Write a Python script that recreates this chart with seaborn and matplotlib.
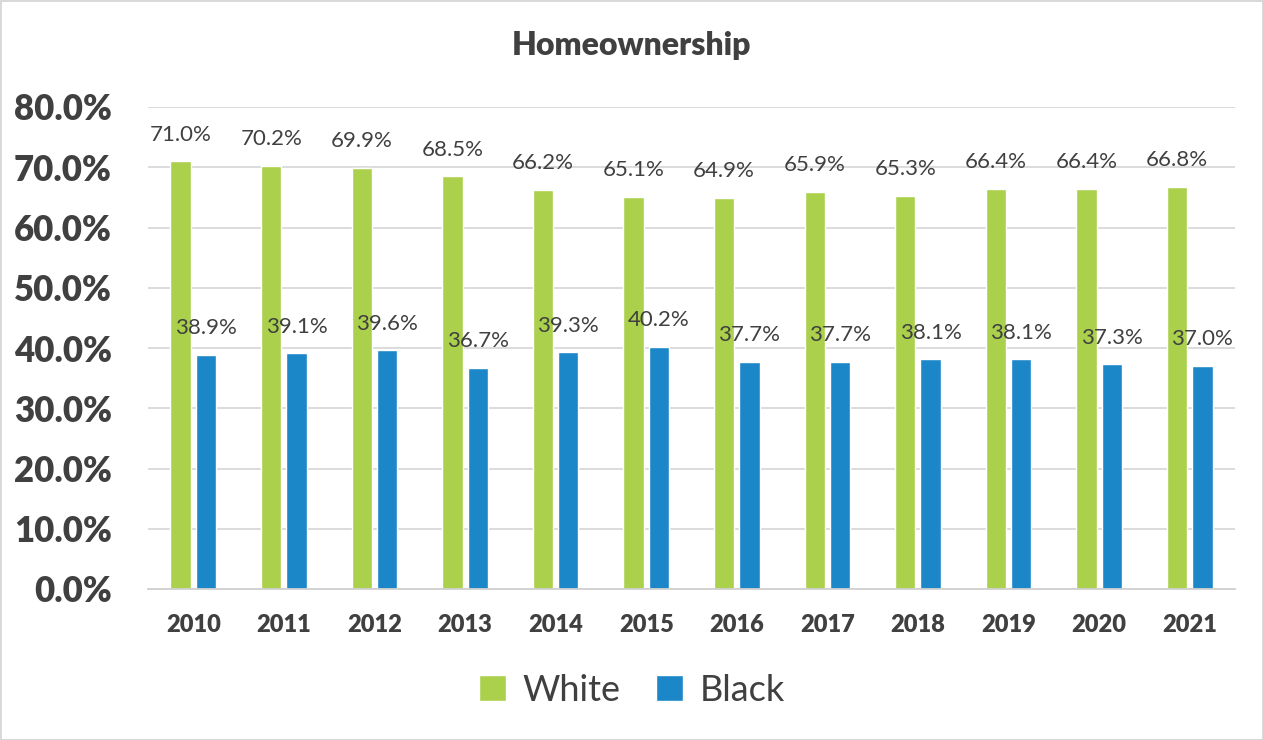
import pandas as pd
import matplotlib.pyplot as plt
import seaborn as sns
from matplotlib.ticker import FuncFormatter, MultipleLocator

years = [2010, 2011, 2012, 2013, 2014, 2015, 2016, 2017, 2018, 2019, 2020, 2021]
white = [71.0, 70.2, 69.9, 68.5, 66.2, 65.1, 64.9, 65.9, 65.3, 66.4, 66.4, 66.8]
black = [38.9, 39.1, 39.6, 36.7, 39.3, 40.2, 37.7, 37.7, 38.1, 38.1, 37.3, 37.0]
groups = ["White", "Black"]
colors = ["#ABD04B", "#1B87C9"]

df = pd.DataFrame({
    "year": [str(y) for y in years] * 2,
    "value": white + black,
    "group": [groups[0]] * len(years) + [groups[1]] * len(years),
})

sns.set_style("white")
plt.rcParams['font.family'] = ['Lato', 'DejaVu Sans']

fig = plt.figure(figsize=(12.63, 7.40), dpi=100)
ax = fig.add_axes([148 / 1263, 1 - 589 / 740, (1235 - 148) / 1263, (589 - 107) / 740])

sns.barplot(data=df, x="year", y="value", hue="group", palette=colors,
            saturation=1, width=0.56, gap=0.2, ax=ax, legend=True)

ax.set_ylim(0, 80)
ax.yaxis.set_major_locator(MultipleLocator(10))
ax.yaxis.set_major_formatter(FuncFormatter(lambda v, p: f"{v:.1f}%"))
ax.grid(axis="y", color="#d9d9d9", linewidth=1.3)
ax.set_axisbelow(True)
for s in ["top", "right", "left"]:
    ax.spines[s].set_visible(False)
ax.spines["bottom"].set_color("#d0d0d0")
ax.spines["bottom"].set_linewidth(1.3)
ax.set_xlabel("")
ax.set_ylabel("")
ax.tick_params(axis="y", labelsize=25, colors="#404040", length=0, pad=26)
ax.tick_params(axis="x", labelsize=17, colors="#404040", length=0, pad=18)
for lab in ax.get_yticklabels() + ax.get_xticklabels():
    lab.set_fontweight("heavy")

for cont in ax.containers:
    for bar in cont:
        h = bar.get_height()
        ax.annotate(f"{h:.1f}%", (bar.get_x() + bar.get_width() / 2, h),
                    xytext=(0, 12), textcoords="offset points",
                    ha="center", va="bottom", fontsize=16, color="#404040")

ax.legend(loc="center", bbox_to_anchor=(0.445, -0.21), ncol=2, frameon=False,
          fontsize=26, handlelength=0.75, handleheight=0.75, columnspacing=1.0,
          handletextpad=0.45, labelcolor="#404040")

fig.text(0.5, 1 - 45 / 740, "Homeownership", ha="center", va="center",
         fontsize=23, fontweight="heavy", color="#404040")

fig.patch.set_edgecolor("#d9d9d9")
fig.patch.set_linewidth(2)

fig.savefig("out.png", dpi=100, edgecolor=fig.get_edgecolor())
